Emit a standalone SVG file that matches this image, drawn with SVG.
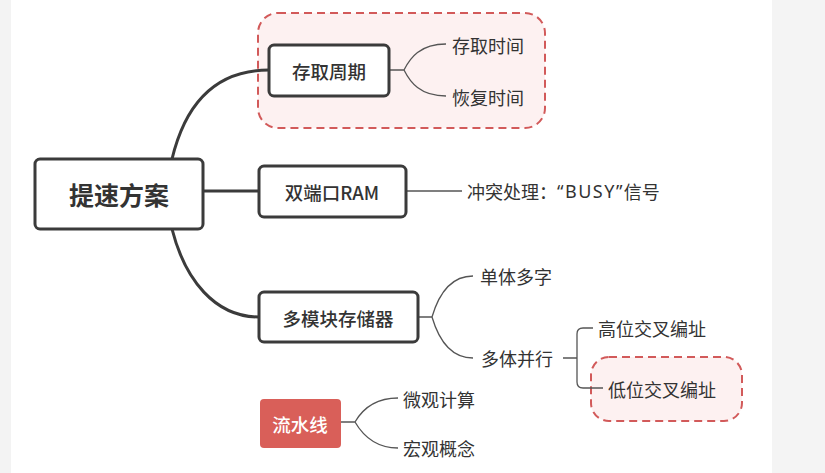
<svg xmlns="http://www.w3.org/2000/svg" width="825" height="473" viewBox="0 0 825 473">
<style>
.bg{fill:#ffffff}
.box{fill:#ffffff;stroke:#3b3b3b;stroke-width:3}
.grp{fill:#fdf1f1;stroke:#d25a5a;stroke-width:2;stroke-dasharray:8 5}
.main{fill:none;stroke:#3b3b3b;stroke-width:3}
.sub{fill:none;stroke:#555;stroke-width:1.3}
.t{font-family:"Noto Sans CJK SC","Noto Sans",sans-serif;fill:#333;dominant-baseline:central}
.nt{font-size:18.5px;font-weight:500;text-anchor:middle}
.st{font-size:18px}
.q{font-family:"Noto Sans","Liberation Sans",sans-serif;letter-spacing:1.5px}
</style>
<rect width="825" height="473" class="bg"/>
<rect x="0" y="0" width="11" height="473" fill="#f3f3f3"/>
<rect x="772" y="0" width="53" height="473" fill="#f4f4f4"/>
<rect x="258" y="13" width="287" height="115" rx="20" class="grp"/>
<rect x="591" y="357" width="151" height="64" rx="18" class="grp"/>
<g id="connectors">
<path class="main" d="M172 159 C185 105 215 70 269 70"/>
<path class="main" d="M203 191 H259"/>
<path class="main" d="M172 229 C185 280 215 317 259 317"/>
<path class="sub" d="M389 70 H404 M446 44 C420 44 410 58 404 70 C410 82 420 96 446 96"/>
<path class="sub" d="M406 191 H462"/>
<path class="sub" d="M418 317 H432 M473 276 C447 276 437 300 432 317 C437 334 447 358 473 358"/>
<path class="sub" d="M563 358 H577 M593 328 H583 Q577 328 577 334 V382 Q577 388 583 388 H603"/>
<path class="sub" d="M341 422 H355 M398 398 C375 398 362 410 355 422 C362 434 375 448 398 448"/>
</g>
<g id="root"><rect x="35" y="159" width="168" height="70" rx="5" class="box"/><text class="t" x="119" y="194" text-anchor="middle" font-size="25" font-weight="700">提速方案</text></g>
<g id="n1"><rect x="269" y="45" width="120" height="51" rx="5" class="box"/><text class="t nt" x="329" y="71">存取周期</text></g>
<g id="n2"><rect x="259" y="166" width="147" height="51" rx="5" class="box"/><text class="t nt" x="332" y="192">双端口RAM</text></g>
<g id="n3"><rect x="259" y="292" width="159" height="50" rx="5" class="box"/><text class="t nt" x="338" y="318">多模块存储器</text></g>
<g id="n4"><rect x="260" y="399" width="81" height="49" rx="4" fill="#d95f59"/><text class="t nt" x="300" y="424" style="fill:#fff">流水线</text></g>
<g id="s1"><text class="t st" x="452" y="45">存取时间</text></g>
<g id="s2"><text class="t st" x="452" y="97">恢复时间</text></g>
<g id="s3"><text class="t st" x="467" y="191">冲突处理：<tspan class="q">“BUSY”</tspan>信号</text></g>
<g id="s4"><text class="t st" x="480" y="276">单体多字</text></g>
<g id="s5"><text class="t st" x="481" y="358">多体并行</text></g>
<g id="s6"><text class="t st" x="598" y="328">高位交叉编址</text></g>
<g id="s7"><text class="t st" x="608" y="389">低位交叉编址</text></g>
<g id="s8"><text class="t st" x="403" y="399">微观计算</text></g>
<g id="s9"><text class="t st" x="403" y="448">宏观概念</text></g>
</svg>
